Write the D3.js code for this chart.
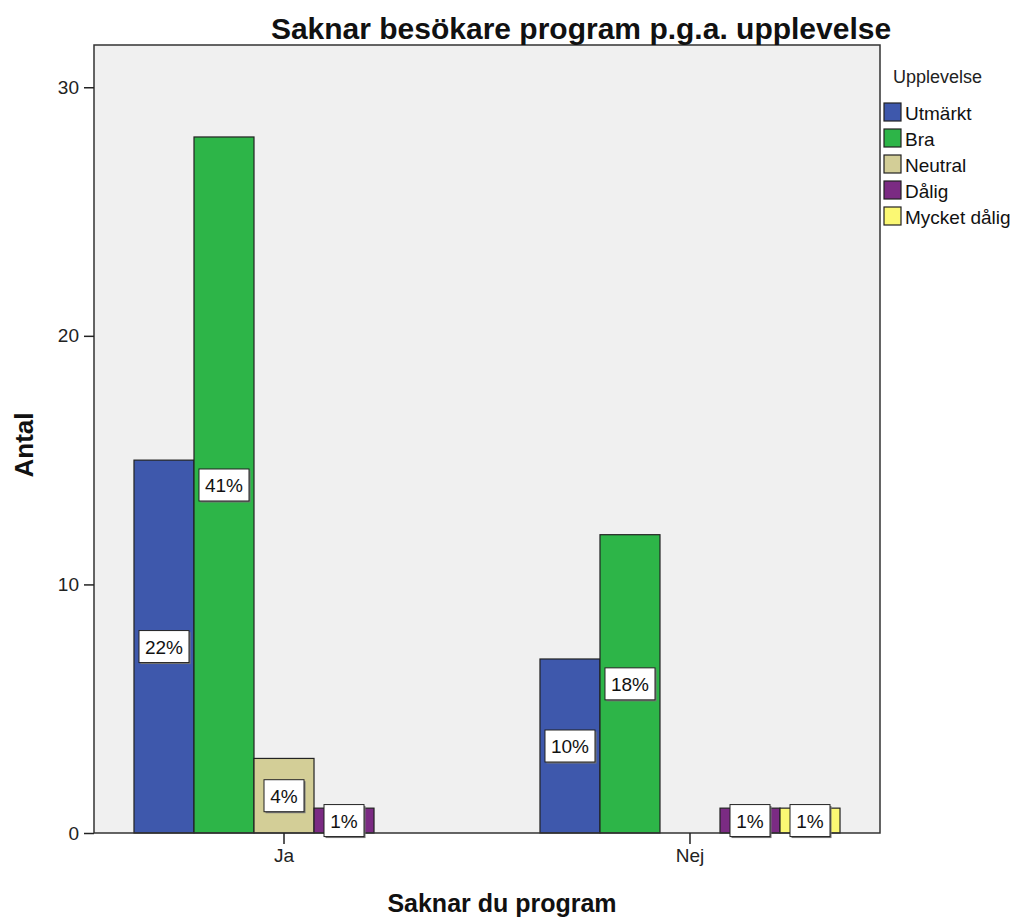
<!DOCTYPE html>
<html>
<head>
<meta charset="utf-8">
<script src="https://cdn.jsdelivr.net/npm/d3@7"></script>
<style>
body{margin:0;background:#fff;}
text{font-family:Arial,"Liberation Sans",sans-serif;}
</style>
</head>
<body>
<svg width="1024" height="920"></svg>
<script>
// data
const groups=['Ja','Nej'];
const series=['Utmärkt','Bra','Neutral','Dålig','Mycket dålig'];
const colors=['#3e58ac','#2db548','#d3ce97','#7b2b83','#fbf873'];
const jaValues=[15,28,3,1,0];
const nejValues=[7,12,0,1,1];
const yTicks=[0,10,20,30];

const svg=d3.select('svg');
const plotLeft=94, plotRight=880, plotTop=45, plotBottom=833;
const font='Arial,"Liberation Sans",sans-serif';

const rows=[];
groups.forEach((g,gi)=>{
    const vals=gi===0?jaValues:nejValues;
    series.forEach((s,si)=>rows.push({group:g,series:s,value:vals[si],color:colors[si]}));
});
const total=d3.sum(rows,d=>d.value);

const y=d3.scaleLinear().domain([0,31.7]).range([plotBottom,plotTop]);
const x0=d3.scaleBand().domain(groups).range([plotLeft,plotRight]).paddingInner(0.261).paddingOuter(0.0985);
const x1=d3.scaleBand().domain(series).range([0,x0.bandwidth()]);

// plot background
svg.append('rect')
    .attr('x',plotLeft).attr('y',plotTop)
    .attr('width',plotRight-plotLeft).attr('height',plotBottom-plotTop)
    .attr('fill','#f0f0f0');

// bars
const bars=rows.filter(d=>d.value>0);
svg.append('g').selectAll('rect')
    .data(bars)
    .join('rect')
    .attr('x',d=>x0(d.group)+x1(d.series))
    .attr('y',d=>y(d.value))
    .attr('width',x1.bandwidth())
    .attr('height',d=>y(0)-y(d.value))
    .attr('fill',d=>d.color)
    .attr('stroke','#222')
    .attr('stroke-width',1.2);

// frame
svg.append('rect')
    .attr('x',plotLeft).attr('y',plotTop)
    .attr('width',plotRight-plotLeft).attr('height',plotBottom-plotTop)
    .attr('fill','none').attr('stroke','#333').attr('stroke-width',1.5);

// value labels
const lab=svg.append('g').selectAll('g')
    .data(bars)
    .join('g')
    .attr('transform',d=>`translate(${x0(d.group)+x1(d.series)+x1.bandwidth()/2},${y(d.value/2)})`);
lab.each(function(d){
    const g=d3.select(this);
    const txt=Math.round(d.value/total*100)+'%';
    const w=txt.length>2?50:40;
    g.append('rect')
        .attr('x',-w/2+1.5).attr('y',-14.5)
        .attr('width',w).attr('height',32)
        .attr('fill','#777');
    g.append('rect')
        .attr('x',-w/2).attr('y',-16)
        .attr('width',w).attr('height',32)
        .attr('fill','#fff').attr('stroke','#222').attr('stroke-width',1);
    g.append('text')
        .attr('text-anchor','middle')
        .attr('y',7)
        .attr('font-size',19)
        .attr('fill','#111')
        .text(txt);
});

// y axis
const yAxis=svg.append('g')
    .attr('transform',`translate(${plotLeft},0)`)
    .call(d3.axisLeft(y).tickValues(yTicks).tickSize(10).tickPadding(5));
yAxis.select('.domain').remove();
yAxis.selectAll('line').attr('stroke','#222').attr('stroke-width',1.5);
yAxis.selectAll('text').attr('font-size',19).attr('fill','#222').attr('font-family',font);

// x axis
const xAxis=svg.append('g')
    .attr('transform',`translate(0,${plotBottom})`)
    .call(d3.axisBottom(x0).tickSize(11).tickPadding(5));
xAxis.select('.domain').remove();
xAxis.selectAll('line').attr('stroke','#222').attr('stroke-width',1.5);
xAxis.selectAll('text').attr('font-size',19).attr('fill','#222').attr('font-family',font);

// titles
svg.append('text')
    .attr('x',581).attr('y',39)
    .attr('text-anchor','middle')
    .attr('font-size',30).attr('font-weight','bold').attr('fill','#111')
    .text('Saknar besökare program p.g.a. upplevelse');
svg.append('text')
    .attr('x',502).attr('y',912)
    .attr('text-anchor','middle')
    .attr('font-size',25).attr('font-weight','bold').attr('fill','#111')
    .text('Saknar du program');
svg.append('text')
    .attr('transform',`translate(33,445) rotate(-90)`)
    .attr('text-anchor','middle')
    .attr('font-size',26).attr('font-weight','bold').attr('fill','#111')
    .text('Antal');

// legend
const legend=svg.append('g').attr('transform','translate(883,0)');
legend.append('text')
    .attr('x',10).attr('y',83)
    .attr('font-size',18).attr('fill','#222')
    .text('Upplevelse');
const li=legend.selectAll('g.item')
    .data(series)
    .join('g')
    .attr('class','item')
    .attr('transform',(d,i)=>`translate(0,${103+i*26})`);
li.append('rect')
    .attr('x',1).attr('y',0)
    .attr('width',17).attr('height',18)
    .attr('fill',(d,i)=>colors[i])
    .attr('stroke','#222').attr('stroke-width',1.2);
li.append('text')
    .attr('x',22).attr('y',17)
    .attr('font-size',19).attr('fill','#111')
    .text(d=>d);
</script>
</body>
</html>
